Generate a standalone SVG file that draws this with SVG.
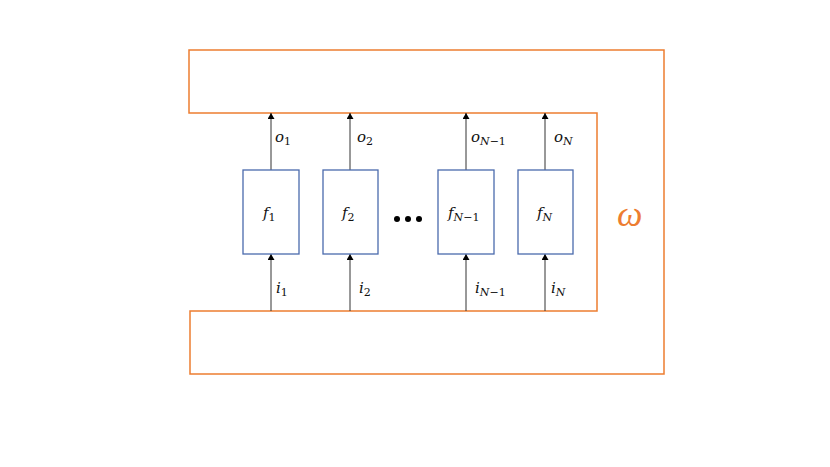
<svg xmlns="http://www.w3.org/2000/svg" width="830" height="467" viewBox="0 0 830 467">
<defs>
<marker id="tip" markerWidth="6" markerHeight="7" refX="6" refY="3.5" orient="auto" markerUnits="userSpaceOnUse">
<path d="M0,0 L6,3.5 L0,7 Z" fill="#000"/>
</marker>
</defs>
<style>
.box{fill:#fff;stroke:#4a6aad;stroke-width:1.3}
.loop{fill:none;stroke:#ed7d31;stroke-width:1.5}
.wire{stroke:#333;stroke-width:1;fill:none;marker-end:url(#tip)}
.m{font-family:"DejaVu Serif","Liberation Serif",serif;font-style:italic;font-size:15px;fill:#111}
.s{font-style:normal;font-size:11px}
.si{font-style:italic;font-size:11px}
.w{font-family:"Liberation Serif","DejaVu Serif",serif;font-style:italic;font-size:36px;fill:#ed7d31}
</style>
<rect width="830" height="467" fill="#fff"/>
<g id="loop">
<path class="loop" d="M189,50 H664 V374 H190 V311 H597 V113 H189 Z"/>
<text class="w" x="617" y="226">ω</text>
</g>
<g id="connectors">
<line class="wire" x1="271" y1="170" x2="271" y2="113"/>
<line class="wire" x1="350" y1="170" x2="350" y2="113"/>
<line class="wire" x1="466" y1="170" x2="466" y2="113"/>
<line class="wire" x1="545" y1="170" x2="545" y2="113"/>
<line class="wire" x1="271" y1="311" x2="271" y2="254"/>
<line class="wire" x1="350" y1="311" x2="350" y2="254"/>
<line class="wire" x1="466" y1="311" x2="466" y2="254"/>
<line class="wire" x1="545" y1="311" x2="545" y2="254"/>
<text class="m" x="275" y="142">o<tspan class="s" dy="3">1</tspan></text>
<text class="m" x="357" y="142">o<tspan class="s" dy="3">2</tspan></text>
<text class="m" x="471" y="142">o<tspan class="si" dy="3">N</tspan><tspan class="s">−1</tspan></text>
<text class="m" x="554" y="142">o<tspan class="si" dy="3">N</tspan></text>
<text class="m" x="276" y="293">i<tspan class="s" dy="3">1</tspan></text>
<text class="m" x="359" y="293">i<tspan class="s" dy="3">2</tspan></text>
<text class="m" x="475" y="293">i<tspan class="si" dy="3">N</tspan><tspan class="s">−1</tspan></text>
<text class="m" x="551" y="293">i<tspan class="si" dy="3">N</tspan></text>
</g>
<g id="f1"><rect class="box" x="243" y="170" width="56" height="84"/><text class="m" x="263" y="218">f<tspan class="s" dy="3">1</tspan></text></g>
<g id="f2"><rect class="box" x="323" y="170" width="55" height="84"/><text class="m" x="342" y="218">f<tspan class="s" dy="3">2</tspan></text></g>
<g id="dots"><circle cx="397" cy="219" r="3" fill="#000"/><circle cx="408" cy="219" r="3" fill="#000"/><circle cx="419" cy="219" r="3" fill="#000"/></g>
<g id="fN-1"><rect class="box" x="438" y="170" width="56" height="84"/><text class="m" x="448" y="218">f<tspan class="si" dy="3">N</tspan><tspan class="s">−1</tspan></text></g>
<g id="fN"><rect class="box" x="518" y="170" width="55" height="84"/><text class="m" x="537" y="218">f<tspan class="si" dy="3">N</tspan></text></g>
</svg>
